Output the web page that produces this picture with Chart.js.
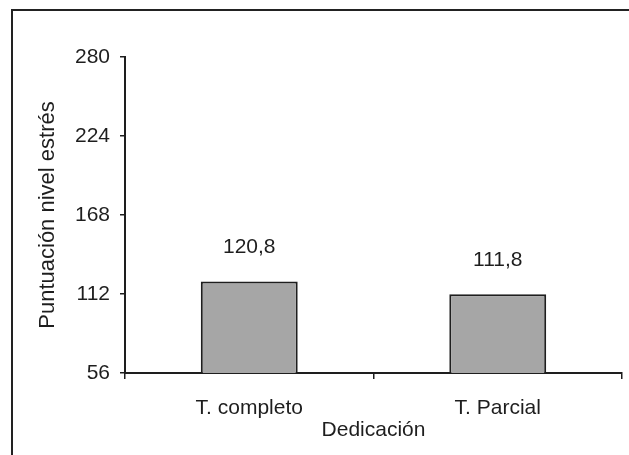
<!DOCTYPE html>
<html>
<head>
<meta charset="utf-8">
<script src="https://cdn.jsdelivr.net/npm/chart.js@4.4.0/dist/chart.umd.min.js"></script>
<style>
  html, body { margin: 0; padding: 0; background: #fff; }
  #wrap { position: relative; width: 629px; height: 455px; }
  #frame {
    position: absolute; left: 11px; top: 9px; right: 0; bottom: 0;
    border-left: 2px solid #222; border-top: 2px solid #222;
  }
  canvas { position: absolute; left: 0; top: 0; }
</style>
</head>
<body>
<div id="wrap">
  <div id="frame"></div>
  <canvas id="chart" width="629" height="455"></canvas>
</div>
<script>
const categories = ['T. completo', 'T. Parcial']
const scores = [120.8, 111.8]
const yTicks = [56, 112, 168, 224, 280]

const ink = '#1e1e1e'
const fontFamily = '"Liberation Sans", Arial, sans-serif'

// valores encima de las barras
const valueLabels = {
  id: 'valueLabels',
  afterDatasetsDraw(chart) {
    const ctx = chart.ctx
    const meta = chart.getDatasetMeta(0)
    ctx.save()
    ctx.fillStyle = ink
    ctx.font = '21px ' + fontFamily
    ctx.textAlign = 'center'
    ctx.textBaseline = 'middle'
    meta.data.forEach((bar, i) => {
      const txt = scores[i].toFixed(1).replace('.', ',')
      ctx.fillText(txt, bar.x, bar.y - 34)
    })
    ctx.restore()
  }
}

new Chart(document.getElementById('chart'), {
  type: 'bar',
  data: {
    labels: categories,
    datasets: [{
      data: scores,
      backgroundColor: '#a6a6a6',
      borderColor: ink,
      borderWidth: 2,
      borderSkipped: 'bottom',
      barPercentage: 0.39,
      categoryPercentage: 1
    }]
  },
  options: {
    responsive: false,
    animation: false,
    layout: { padding: { top: 57, right: 7, left: 0, bottom: 0 } },
    plugins: {
      legend: { display: false },
      tooltip: { enabled: false }
    },
    scales: {
      x: {
        offset: true,
        afterFit: (s) => { s.height = 82 },
        grid: {
          offset: true,
          drawOnChartArea: false,
          drawTicks: true,
          tickLength: 6,
          color: ink,
          lineWidth: 1.5
        },
        border: { display: true, color: ink, width: 2 },
        ticks: { color: ink, font: { size: 21, family: fontFamily }, padding: 17 },
        title: {
          display: true,
          text: 'Dedicación',
          color: ink,
          font: { size: 21, family: fontFamily },
          padding: { top: 0, bottom: 12 }
        }
      },
      y: {
        min: 56,
        max: 280,
        afterFit: (s) => { s.width = 125 },
        afterBuildTicks: (s) => { s.ticks = yTicks.map(v => ({ value: v })) },
        grid: {
          drawOnChartArea: false,
          drawTicks: true,
          tickLength: 5,
          color: ink,
          lineWidth: 1.5
        },
        border: { display: true, color: ink, width: 2 },
        ticks: { color: ink, font: { size: 21, family: fontFamily }, padding: 10 },
        title: {
          display: true,
          text: 'Puntuación nivel estrés',
          color: ink,
          font: { size: 22, family: fontFamily },
          padding: { top: 35, bottom: 0 }
        }
      }
    }
  },
  plugins: [valueLabels]
})
</script>
</body>
</html>
